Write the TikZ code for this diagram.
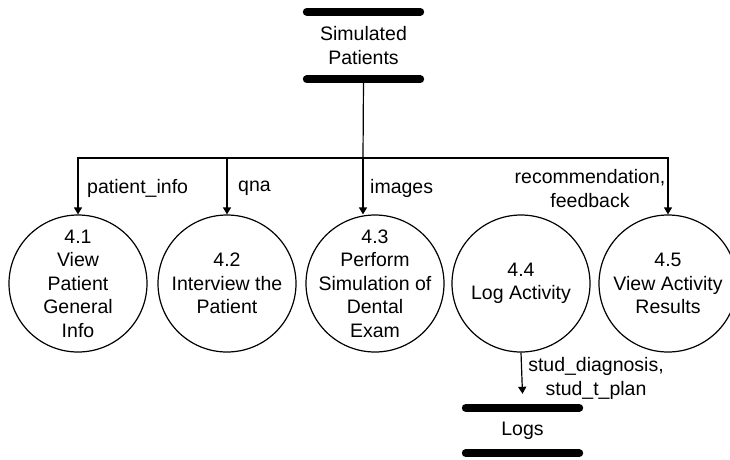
\documentclass[tikz,border=0pt]{standalone}
\usepackage{fontspec}
\setmainfont{Liberation Sans}
\usetikzlibrary{shapes.geometric,arrows.meta}
\tikzset{
	proc/.style={ellipse, draw, line width=1.2pt, minimum width=138pt, minimum height=137pt, inner sep=-12pt, align=center},
	store/.style={minimum width=113pt, inner sep=0pt, align=center},
	storebar/.style={line width=8pt, line cap=round},
	link/.style={line width=1.2pt},
	flow/.style={link, -{Triangle[length=7pt,width=8pt]}},
	lbl/.style={inner sep=0pt, align=center}
}
\begin{document}
\begin{tikzpicture}[x=1pt,y=-1pt,font=\fontsize{19.5}{23.5}\selectfont]
	\useasboundingbox (0,0) rectangle (730,459);
	\node[store, minimum height=67pt] (sp) at (363.5,45.5) {Simulated\\Patients};
	\node[store, minimum height=45pt] (logs) at (522.5,430.5) {Logs};
	\foreach \s in {sp,logs}
		\draw[storebar] (\s.north west) -- (\s.north east) (\s.south west) -- (\s.south east);
	\node[proc] (e1) at (78,283.5) {4.1\\View\\Patient\\General\\Info};
	\node[proc] (e2) at (227,283.5) {4.2\\Interview the\\Patient};
	\node[proc] (e3) at (375,283.5) {4.3\\Perform\\Simulation of\\Dental\\Exam};
	\node[proc] (e4) at (521,283.5) {4.4\\Log Activity};
	\node[proc] (e5) at (668,283.5) {4.5\\View Activity\\Results};
	\coordinate (bus) at (363,158);
	\draw[link] (sp.south) -- (bus);
	\draw[flow] (bus) -| (e1.north);
	\draw[flow] (bus) -| (e2.north);
	\draw[flow] (bus) -- (bus |- e3.north);
	\draw[flow] (bus) -| (e5.north);
	\draw[flow] (e4.south) -- ([yshift=14pt]logs.north);
	\node[lbl, anchor=west] (pinfo) at (87,188) {patient\_info};
	\node[lbl, anchor=west] (qna) at (238,188) {qna};
	\node[lbl, anchor=west] (img) at (370,188) {images};
	\node[lbl] (recfb) at (590,188.5) {recommendation,\\feedback};
	\node[lbl] (studdx) at (596,378.5) {stud\_diagnosis,\\stud\_t\_plan};
\end{tikzpicture}
\end{document}
